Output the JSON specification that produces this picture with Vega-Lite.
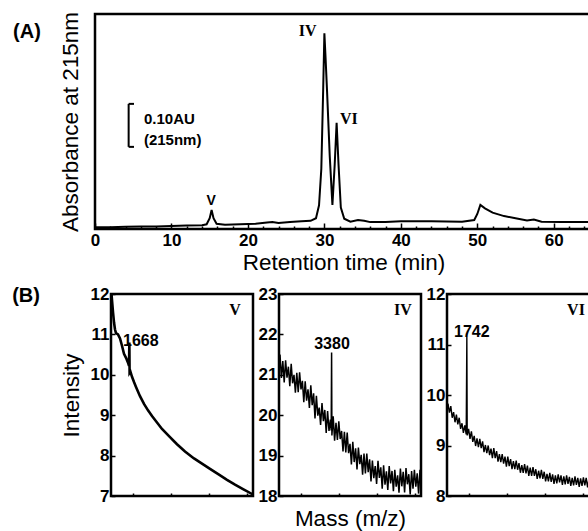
{
  "$schema": "https://vega.github.io/schema/vega-lite/v6.json",
  "background": "white",
  "padding": {"left": 10, "top": 10, "right": 0, "bottom": 0},
  "config": {
    "view": {"stroke": "black", "strokeWidth": 2.5},
    "font": "Liberation Sans",
    "axis": {
      "domain": false, "grid": false,
      "labelFont": "Liberation Sans", "labelFontWeight": "bold", "labelFontSize": 17, "labelColor": "black",
      "labelOverlap": false,
      "titleFont": "Liberation Sans", "titleFontSize": 22.5, "titleFontWeight": "normal", "titleColor": "black",
      "tickColor": "black", "tickWidth": 1.5
    }
  },
  "datasets": {
    "chrom": [
      {"t":0,"au":0.004},{"t":2,"au":0.004},{"t":4,"au":0.005},{"t":6,"au":0.006},{"t":8,"au":0.006},
      {"t":10,"au":0.007},{"t":12,"au":0.008},{"t":14,"au":0.009},{"t":14.6,"au":0.011},{"t":15.0,"au":0.025},
      {"t":15.25,"au":0.044},{"t":15.5,"au":0.025},{"t":15.9,"au":0.012},{"t":17,"au":0.010},{"t":19,"au":0.011},
      {"t":21,"au":0.012},{"t":22.5,"au":0.015},{"t":23.2,"au":0.016},{"t":24,"au":0.014},{"t":25.5,"au":0.016},
      {"t":27,"au":0.018},{"t":28.2,"au":0.019},{"t":28.9,"au":0.025},{"t":29.3,"au":0.055},{"t":29.6,"au":0.14},
      {"t":29.85,"au":0.33},{"t":30.0,"au":0.455},{"t":30.15,"au":0.40},{"t":30.35,"au":0.32},{"t":30.7,"au":0.17},
      {"t":31.05,"au":0.056},{"t":31.35,"au":0.15},{"t":31.6,"au":0.247},{"t":31.85,"au":0.15},{"t":32.15,"au":0.05},
      {"t":32.6,"au":0.024},{"t":33.4,"au":0.017},{"t":34.4,"au":0.021},{"t":35.2,"au":0.019},{"t":36,"au":0.016},
      {"t":38,"au":0.016},{"t":40,"au":0.018},{"t":44,"au":0.018},{"t":48,"au":0.017},{"t":49.6,"au":0.021},
      {"t":50.0,"au":0.035},{"t":50.4,"au":0.056},{"t":51.0,"au":0.048},{"t":52,"au":0.038},{"t":53.5,"au":0.030},
      {"t":55,"au":0.025},{"t":56.5,"au":0.020},{"t":57.4,"au":0.022},{"t":58.4,"au":0.017},{"t":61,"au":0.016},
      {"t":65,"au":0.016}
    ],
    "annA": [
      {"t":-8.9,"au":0.458,"label":"(A)","g":"big"},
      {"t":27.8,"au":0.46,"label":"IV","g":"serif"},
      {"t":33.2,"au":0.256,"label":"VI","g":"serif"},
      {"t":15.2,"au":0.065,"label":"V","g":"small"},
      {"t":6.4,"au":0.256,"label":"0.10AU","g":"bar"},
      {"t":6.4,"au":0.207,"label":"(215nm)","g":"bar"}
    ],
    "scalebar": [
      {"t":4.4,"au":0.191,"t2":4.4,"au2":0.291},
      {"t":4.4,"au":0.291,"t2":5.1,"au2":0.291},
      {"t":4.4,"au":0.191,"t2":5.1,"au2":0.191}
    ],
    "specV": [
      {"mass":775,"v":12.0},{"mass":800,"v":11.85},{"mass":850,"v":11.55},{"mass":900,"v":11.3},{"mass":950,"v":11.12},
      {"mass":1000,"v":11.03},{"mass":1100,"v":11.0},{"mass":1200,"v":10.9},{"mass":1300,"v":10.72},{"mass":1400,"v":10.52},
      {"mass":1500,"v":10.42},{"mass":1600,"v":10.3},{"mass":1650,"v":10.22},{"mass":1668,"v":10.8},{"mass":1680,"v":10.05},
      {"mass":1720,"v":10.08},{"mass":1800,"v":9.95},{"mass":1900,"v":9.82},{"mass":2000,"v":9.7},{"mass":2200,"v":9.47},
      {"mass":2400,"v":9.28},{"mass":2600,"v":9.12},{"mass":2800,"v":8.98},{"mass":3050,"v":8.82},{"mass":3300,"v":8.66},
      {"mass":3650,"v":8.48},{"mass":4050,"v":8.28},{"mass":4450,"v":8.1},{"mass":4900,"v":7.93},{"mass":5300,"v":7.8},
      {"mass":5700,"v":7.67},{"mass":6150,"v":7.53},{"mass":6550,"v":7.4},{"mass":6950,"v":7.28},{"mass":7350,"v":7.17},
      {"mass":7800,"v":7.05},{"mass":7850,"v":7.03}
    ],
    "specIV": [
      {"mass":800,"v":21.5},{"mass":870,"v":20.92},{"mass":940,"v":21.34},{"mass":1010,"v":20.81},{"mass":1080,"v":21.36},
      {"mass":1150,"v":20.93},{"mass":1220,"v":21.2},{"mass":1290,"v":20.72},{"mass":1360,"v":21.27},{"mass":1430,"v":20.79},
      {"mass":1500,"v":21.0},{"mass":1570,"v":20.56},{"mass":1640,"v":21.05},{"mass":1710,"v":20.57},{"mass":1780,"v":21.06},
      {"mass":1850,"v":20.64},{"mass":1920,"v":20.85},{"mass":1990,"v":20.32},{"mass":2060,"v":20.84},{"mass":2130,"v":20.36},
      {"mass":2200,"v":20.64},{"mass":2270,"v":20.18},{"mass":2340,"v":20.74},{"mass":2410,"v":20.25},{"mass":2480,"v":20.54},
      {"mass":2550,"v":19.92},{"mass":2620,"v":20.48},{"mass":2690,"v":19.99},{"mass":2760,"v":20.19},{"mass":2830,"v":19.76},
      {"mass":2900,"v":20.3},{"mass":2970,"v":19.85},{"mass":3040,"v":20.13},{"mass":3110,"v":19.56},{"mass":3180,"v":20.1},
      {"mass":3250,"v":19.61},{"mass":3320,"v":19.89},{"mass":3360,"v":19.62},{"mass":3380,"v":21.55},{"mass":3395,"v":19.5},
      {"mass":3460,"v":19.97},{"mass":3530,"v":19.37},{"mass":3600,"v":19.81},{"mass":3670,"v":19.39},{"mass":3740,"v":19.85},
      {"mass":3810,"v":19.41},{"mass":3880,"v":19.61},{"mass":3950,"v":19.1},{"mass":4020,"v":19.59},{"mass":4090,"v":19.08},
      {"mass":4160,"v":19.57},{"mass":4230,"v":19.06},{"mass":4300,"v":19.29},{"mass":4370,"v":18.78},{"mass":4440,"v":19.34},
      {"mass":4510,"v":18.84},{"mass":4580,"v":19.18},{"mass":4650,"v":18.66},{"mass":4720,"v":19.2},{"mass":4790,"v":18.79},
      {"mass":4860,"v":19.02},{"mass":4930,"v":18.53},{"mass":5000,"v":19.05},{"mass":5070,"v":18.56},{"mass":5140,"v":19.05},
      {"mass":5210,"v":18.59},{"mass":5280,"v":18.91},{"mass":5350,"v":18.36},{"mass":5420,"v":18.88},{"mass":5490,"v":18.44},
      {"mass":5560,"v":18.74},{"mass":5630,"v":18.3},{"mass":5700,"v":18.87},{"mass":5770,"v":18.45},{"mass":5840,"v":18.71},
      {"mass":5910,"v":18.18},{"mass":5980,"v":18.76},{"mass":6050,"v":18.28},{"mass":6120,"v":18.61},{"mass":6190,"v":18.15},
      {"mass":6260,"v":18.74},{"mass":6330,"v":18.31},{"mass":6400,"v":18.62},{"mass":6470,"v":18.12},{"mass":6540,"v":18.65},
      {"mass":6610,"v":18.23},{"mass":6680,"v":18.51},{"mass":6750,"v":18.08},{"mass":6820,"v":18.68},{"mass":6890,"v":18.24},
      {"mass":6960,"v":18.6},{"mass":7030,"v":18.09},{"mass":7100,"v":18.69},{"mass":7170,"v":18.29},{"mass":7240,"v":18.54},
      {"mass":7310,"v":18.04},{"mass":7380,"v":18.62},{"mass":7450,"v":18.18},{"mass":7520,"v":18.65},{"mass":7590,"v":18.23},
      {"mass":7660,"v":18.56},{"mass":7730,"v":18.06},{"mass":7800,"v":18.65},{"mass":7850,"v":18.25}
    ],
    "specVI": [
      {"mass":800,"v":9.83},{"mass":870,"v":9.65},{"mass":940,"v":9.78},{"mass":1010,"v":9.55},{"mass":1080,"v":9.66},
      {"mass":1150,"v":9.46},{"mass":1220,"v":9.61},{"mass":1290,"v":9.42},{"mass":1360,"v":9.55},{"mass":1430,"v":9.33},
      {"mass":1500,"v":9.44},{"mass":1570,"v":9.25},{"mass":1640,"v":9.4},{"mass":1710,"v":9.22},{"mass":1742,"v":11.15},
      {"mass":1760,"v":9.2},{"mass":1830,"v":9.33},{"mass":1900,"v":9.13},{"mass":1970,"v":9.28},{"mass":2040,"v":9.07},
      {"mass":2110,"v":9.19},{"mass":2180,"v":8.99},{"mass":2250,"v":9.14},{"mass":2320,"v":8.97},{"mass":2390,"v":9.13},
      {"mass":2460,"v":8.95},{"mass":2530,"v":9.08},{"mass":2600,"v":8.87},{"mass":2670,"v":9.01},{"mass":2740,"v":8.85},
      {"mass":2810,"v":9.0},{"mass":2880,"v":8.81},{"mass":2950,"v":8.94},{"mass":3020,"v":8.75},{"mass":3090,"v":8.95},
      {"mass":3160,"v":8.75},{"mass":3230,"v":8.89},{"mass":3300,"v":8.68},{"mass":3370,"v":8.83},{"mass":3440,"v":8.67},
      {"mass":3510,"v":8.83},{"mass":3580,"v":8.64},{"mass":3650,"v":8.78},{"mass":3720,"v":8.58},{"mass":3790,"v":8.78},
      {"mass":3860,"v":8.59},{"mass":3930,"v":8.73},{"mass":4000,"v":8.53},{"mass":4070,"v":8.69},{"mass":4140,"v":8.53},
      {"mass":4210,"v":8.7},{"mass":4280,"v":8.52},{"mass":4350,"v":8.65},{"mass":4420,"v":8.46},{"mass":4490,"v":8.61},
      {"mass":4560,"v":8.46},{"mass":4630,"v":8.63},{"mass":4700,"v":8.45},{"mass":4770,"v":8.6},{"mass":4840,"v":8.4},
      {"mass":4910,"v":8.56},{"mass":4980,"v":8.4},{"mass":5050,"v":8.57},{"mass":5120,"v":8.4},{"mass":5190,"v":8.53},
      {"mass":5260,"v":8.34},{"mass":5330,"v":8.5},{"mass":5400,"v":8.35},{"mass":5470,"v":8.52},{"mass":5540,"v":8.34},
      {"mass":5610,"v":8.48},{"mass":5680,"v":8.29},{"mass":5750,"v":8.44},{"mass":5820,"v":8.29},{"mass":5890,"v":8.46},
      {"mass":5960,"v":8.28},{"mass":6030,"v":8.43},{"mass":6100,"v":8.24},{"mass":6170,"v":8.41},{"mass":6240,"v":8.25},
      {"mass":6310,"v":8.43},{"mass":6380,"v":8.27},{"mass":6450,"v":8.41},{"mass":6520,"v":8.22},{"mass":6590,"v":8.39},
      {"mass":6660,"v":8.23},{"mass":6730,"v":8.41},{"mass":6800,"v":8.24},{"mass":6870,"v":8.38},{"mass":6940,"v":8.2},
      {"mass":7010,"v":8.36},{"mass":7080,"v":8.21},{"mass":7150,"v":8.39},{"mass":7220,"v":8.22},{"mass":7290,"v":8.36},
      {"mass":7360,"v":8.18},{"mass":7430,"v":8.35},{"mass":7500,"v":8.2},{"mass":7570,"v":8.37},{"mass":7640,"v":8.21},
      {"mass":7710,"v":8.36},{"mass":7780,"v":8.17},{"mass":7850,"v":8.34},{"mass":7920,"v":8.18},{"mass":7990,"v":8.34},
      {"mass":8050,"v":8.23}
    ],
    "annV": [
      {"mass":-3500,"v":11.95,"label":"(B)","g":"big"},
      {"mass":1350,"v":10.84,"label":"1668","g":"num"},
      {"mass":6950,"v":11.6,"label":"V","g":"serif"}
    ],
    "annIV": [
      {"mass":3400,"v":21.76,"label":"3380","g":"numc"},
      {"mass":6950,"v":22.6,"label":"IV","g":"serif"}
    ],
    "annVI": [
      {"mass":1100,"v":11.25,"label":"1742","g":"num"},
      {"mass":7200,"v":11.68,"label":"VI","g":"serif"}
    ]
  },
  "columns": 1,
  "spacing": 8,
  "concat": [
    {
      "width": 497,
      "height": 215,
      "resolve": {"axis": {"x": "independent"}},
      "layer": [
        {
          "data": {"name": "chrom"},
          "mark": {"type": "line", "color": "black", "strokeWidth": 2, "clip": true},
          "encoding": {
            "x": {"field": "t", "type": "quantitative",
                  "scale": {"domain": [0, 65], "nice": false, "zero": false},
                  "axis": {"title": "Retention time (min)", "orient": "bottom",
                           "values": [0,10,20,30,40,50,60], "format": "d",
                           "labelOverlap": false, "labelFlush": false,
                           "tickSize": -6, "labelPadding": 9, "titlePadding": 3}},
            "y": {"field": "au", "type": "quantitative",
                  "scale": {"domain": [0, 0.5], "nice": false, "zero": false},
                  "axis": {"title": "Absorbance at 215nm", "labels": false, "ticks": false, "titlePadding": 13}}
          }
        },
        {
          "data": {"name": "scalebar"},
          "mark": {"type": "rule", "color": "black", "strokeWidth": 2},
          "encoding": {
            "x": {"field": "t", "type": "quantitative",
                  "axis": {"title": null, "orient": "bottom", "labels": false,
                           "values": [2,4,6,8,12,14,16,18,22,24,26,28,32,34,36,38,42,44,46,48,52,54,56,58,62,64],
                           "tickSize": -3}},
            "x2": {"field": "t2"},
            "y": {"field": "au", "type": "quantitative"},
            "y2": {"field": "au2"}
          }
        },
        {
          "data": {"name": "annA"},
          "transform": [{"filter": "datum.g === 'big'"}],
          "mark": {"type": "text", "font": "Liberation Sans", "fontWeight": "bold", "fontSize": 20, "align": "center", "baseline": "middle", "color": "black"},
          "encoding": {"x": {"field": "t", "type": "quantitative", "axis": null}, "y": {"field": "au", "type": "quantitative"}, "text": {"field": "label"}}
        },
        {
          "data": {"name": "annA"},
          "transform": [{"filter": "datum.g === 'serif'"}],
          "mark": {"type": "text", "font": "Liberation Serif", "fontWeight": "bold", "fontSize": 16, "align": "center", "baseline": "middle", "color": "black"},
          "encoding": {"x": {"field": "t", "type": "quantitative", "axis": null}, "y": {"field": "au", "type": "quantitative"}, "text": {"field": "label"}}
        },
        {
          "data": {"name": "annA"},
          "transform": [{"filter": "datum.g === 'small'"}],
          "mark": {"type": "text", "font": "Liberation Sans", "fontWeight": "bold", "fontSize": 14, "align": "center", "baseline": "middle", "color": "black"},
          "encoding": {"x": {"field": "t", "type": "quantitative", "axis": null}, "y": {"field": "au", "type": "quantitative"}, "text": {"field": "label"}}
        },
        {
          "data": {"name": "annA"},
          "transform": [{"filter": "datum.g === 'bar'"}],
          "mark": {"type": "text", "font": "Liberation Sans", "fontWeight": "bold", "fontSize": 15, "align": "left", "baseline": "middle", "color": "black"},
          "encoding": {"x": {"field": "t", "type": "quantitative", "axis": null}, "y": {"field": "au", "type": "quantitative"}, "text": {"field": "label"}}
        }
      ]
    },
    {
      "hconcat": [
        {
          "width": 1,
          "height": 202,
          "view": {"stroke": null},
          "data": {"values": [{"s": ""}]},
          "mark": {"type": "text", "color": "white"},
          "encoding": {"text": {"field": "s"}}
        },
        {
          "hconcat": [
            {
              "width": 142,
              "height": 202,
              "layer": [
                {
                  "data": {"name": "specV"},
                  "mark": {"type": "line", "color": "black", "strokeWidth": 2.6, "clip": true},
                  "encoding": {
                    "x": {"field": "mass", "type": "quantitative",
                          "scale": {"domain": [750, 7850], "nice": false, "zero": false},
                          "axis": {"title": null, "labels": false, "values": [1850, 3750, 5650, 7550], "tickSize": -3}},
                    "y": {"field": "v", "type": "quantitative",
                          "scale": {"domain": [7, 12], "nice": false, "zero": false},
                          "axis": {"title": "Intensity", "values": [7,8,9,10,11,12], "format": "d", "tickSize": -4, "labelPadding": 6, "titlePadding": 7}}
                  }
                },
                {
                  "data": {"name": "annV"},
                  "transform": [{"filter": "datum.g === 'big'"}],
                  "mark": {"type": "text", "font": "Liberation Sans", "fontWeight": "bold", "fontSize": 20, "align": "center", "baseline": "middle", "color": "black"},
                  "encoding": {"x": {"field": "mass", "type": "quantitative"}, "y": {"field": "v", "type": "quantitative"}, "text": {"field": "label"}}
                },
                {
                  "data": {"name": "annV"},
                  "transform": [{"filter": "datum.g === 'num'"}],
                  "mark": {"type": "text", "font": "Liberation Sans", "fontWeight": "bold", "fontSize": 16, "align": "left", "baseline": "middle", "color": "black"},
                  "encoding": {"x": {"field": "mass", "type": "quantitative"}, "y": {"field": "v", "type": "quantitative"}, "text": {"field": "label"}}
                },
                {
                  "data": {"name": "annV"},
                  "transform": [{"filter": "datum.g === 'serif'"}],
                  "mark": {"type": "text", "font": "Liberation Serif", "fontWeight": "bold", "fontSize": 16, "align": "center", "baseline": "middle", "color": "black"},
                  "encoding": {"x": {"field": "mass", "type": "quantitative"}, "y": {"field": "v", "type": "quantitative"}, "text": {"field": "label"}}
                }
              ]
            },
            {
              "width": 142,
              "height": 202,
              "layer": [
                {
                  "data": {"name": "specIV"},
                  "mark": {"type": "line", "color": "black", "strokeWidth": 1.5, "clip": true},
                  "encoding": {
                    "x": {"field": "mass", "type": "quantitative",
                          "scale": {"domain": [750, 7850], "nice": false, "zero": false},
                          "axis": {"title": "Mass (m/z)", "labels": false, "values": [1850, 3750, 5650, 7550], "tickSize": -3, "titlePadding": 11}},
                    "y": {"field": "v", "type": "quantitative",
                          "scale": {"domain": [18, 23], "nice": false, "zero": false},
                          "axis": {"title": null, "values": [18,19,20,21,22,23], "format": "d", "tickSize": -4, "labelPadding": 6}}
                  }
                },
                {
                  "data": {"name": "annIV"},
                  "transform": [{"filter": "datum.g === 'numc'"}],
                  "mark": {"type": "text", "font": "Liberation Sans", "fontWeight": "bold", "fontSize": 16, "align": "center", "baseline": "middle", "color": "black"},
                  "encoding": {"x": {"field": "mass", "type": "quantitative"}, "y": {"field": "v", "type": "quantitative"}, "text": {"field": "label"}}
                },
                {
                  "data": {"name": "annIV"},
                  "transform": [{"filter": "datum.g === 'serif'"}],
                  "mark": {"type": "text", "font": "Liberation Serif", "fontWeight": "bold", "fontSize": 16, "align": "center", "baseline": "middle", "color": "black"},
                  "encoding": {"x": {"field": "mass", "type": "quantitative"}, "y": {"field": "v", "type": "quantitative"}, "text": {"field": "label"}}
                }
              ]
            },
            {
              "width": 146,
              "height": 202,
              "layer": [
                {
                  "data": {"name": "specVI"},
                  "mark": {"type": "line", "color": "black", "strokeWidth": 1.4, "clip": true},
                  "encoding": {
                    "x": {"field": "mass", "type": "quantitative",
                          "scale": {"domain": [750, 8050], "nice": false, "zero": false},
                          "axis": {"title": null, "labels": false, "values": [1850, 3750, 5650, 7550], "tickSize": -3}},
                    "y": {"field": "v", "type": "quantitative",
                          "scale": {"domain": [8, 12], "nice": false, "zero": false},
                          "axis": {"title": null, "values": [8,9,10,11,12], "format": "d", "tickSize": -4, "labelPadding": 6}}
                  }
                },
                {
                  "data": {"name": "annVI"},
                  "transform": [{"filter": "datum.g === 'num'"}],
                  "mark": {"type": "text", "font": "Liberation Sans", "fontWeight": "bold", "fontSize": 16, "align": "left", "baseline": "middle", "color": "black"},
                  "encoding": {"x": {"field": "mass", "type": "quantitative"}, "y": {"field": "v", "type": "quantitative"}, "text": {"field": "label"}}
                },
                {
                  "data": {"name": "annVI"},
                  "transform": [{"filter": "datum.g === 'serif'"}],
                  "mark": {"type": "text", "font": "Liberation Serif", "fontWeight": "bold", "fontSize": 16, "align": "center", "baseline": "middle", "color": "black"},
                  "encoding": {"x": {"field": "mass", "type": "quantitative"}, "y": {"field": "v", "type": "quantitative"}, "text": {"field": "label"}}
                }
              ]
            }
          ],
          "spacing": 26,
          "bounds": "flush"
        }
      ],
      "spacing": 15,
      "bounds": "flush"
    }
  ]
}
